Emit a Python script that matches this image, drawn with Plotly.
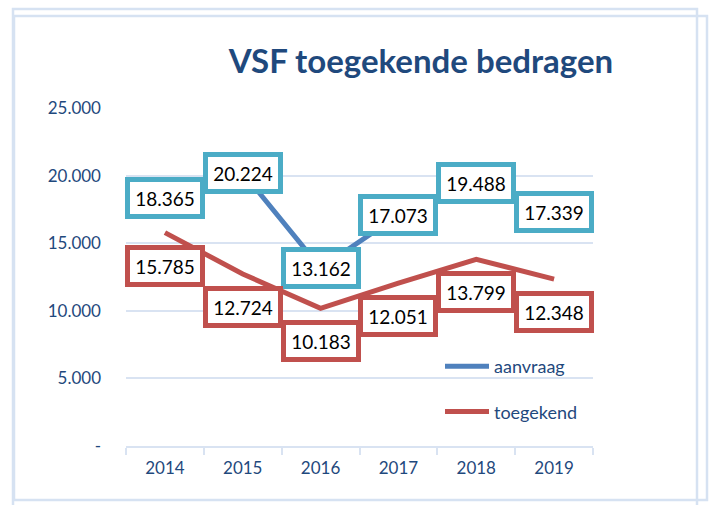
import plotly.graph_objects as go

years = ["2014", "2015", "2016", "2017", "2018", "2019"]
aanvraag = [18365, 20224, 13162, 17073, 19488, 17339]
toegekend = [15785, 12724, 10183, 12051, 13799, 12348]
y_ticks = [0, 5000, 10000, 15000, 20000, 25000]
y_tick_labels = ["-", "5.000", "10.000", "15.000", "20.000", "25.000"]
title_text = "VSF toegekende bedragen"

BLUE = "#4F81BD"
RED = "#C0504D"
CYAN = "#4BACC6"
TXT = "#1F497D"
GRID = "#D9E3F2"

W, H = 710, 505
L, R, T, B = 126, 117, 108, 59
pw, ph = W - L - R, H - T - B


def px(x):
    return (x - L) / pw


def py(y):
    return (H - B - y) / ph


def fmt(v):
    return f"{v:,}".replace(",", ".")


fig = go.Figure()
fig.add_trace(go.Scatter(x=years, y=aanvraag, mode="lines", name="aanvraag",
                         line=dict(color=BLUE, width=5), legendgroup="a"))
fig.add_trace(go.Scatter(x=years, y=toegekend, mode="lines", name="toegekend",
                         line=dict(color=RED, width=5), legendgroup="t"))

label_font = dict(family="Lato", size=19, color="black")
for i, v in enumerate(aanvraag):
    fig.add_annotation(x=i, y=v, text=fmt(v), showarrow=False, font=label_font,
                       bgcolor="white", bordercolor=CYAN, borderwidth=5,
                       borderpad=3, width=64, height=26)
for i, v in enumerate(toegekend):
    fig.add_annotation(x=i, y=v, text=fmt(v), showarrow=False, yshift=-33,
                       font=label_font,
                       bgcolor="white", bordercolor=RED, borderwidth=5,
                       borderpad=3, width=64, height=26)

frame = dict(type="rect", xref="paper", yref="paper",
             line=dict(color="#D6E2F2", width=2.5), layer="below")
fig.add_shape(**frame, x0=px(13), x1=px(697), y0=py(510), y1=py(9))
fig.add_shape(**frame, x0=px(14), x1=px(707), y0=py(500), y1=py(16))

fig.update_layout(
    width=W, height=H,
    margin=dict(l=L, r=R, t=T, b=B, autoexpand=False),
    paper_bgcolor="white", plot_bgcolor="white",
    title=dict(text=title_text, x=421 / W, xanchor="center", xref="container",
               y=1 - 61 / H, yanchor="middle", yref="container",
               font=dict(family="Lato", size=33, color=TXT, weight="bold")),
    showlegend=True,
    legend=dict(x=px(440), y=py(348), xanchor="left", yanchor="top",
                font=dict(family="Lato", size=18, color=TXT),
                bgcolor="rgba(0,0,0,0)", tracegroupgap=19, itemwidth=44),
    xaxis=dict(type="category", range=[-0.5, len(years) - 0.5],
               showgrid=False, showline=True, linecolor=GRID,
               linewidth=2, ticks="outside", tickson="boundaries", ticklen=7,
               tickcolor=GRID, tickwidth=2,
               tickfont=dict(family="Lato", size=17, color=TXT), ticklabelstandoff=6),
    yaxis=dict(range=[0, 25000], tickvals=y_ticks, ticktext=y_tick_labels,
               showgrid=True, gridcolor=GRID, gridwidth=1.5, zeroline=False,
               showline=False, ticks="",
               tickfont=dict(family="Lato", size=17, color=TXT), ticklabelstandoff=24),
)

fig.write_html("out.html")
